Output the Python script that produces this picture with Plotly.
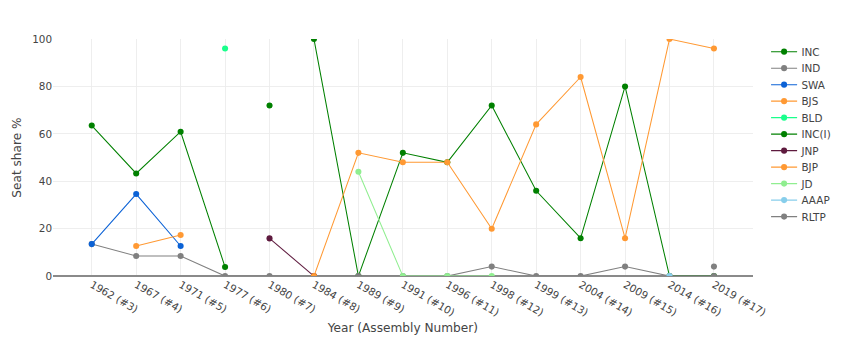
import plotly.graph_objects as go

years = ["1962 (#3)", "1967 (#4)", "1971 (#5)", "1977 (#6)", "1980 (#7)", "1984 (#8)",
         "1989 (#9)", "1991 (#10)", "1996 (#11)", "1998 (#12)", "1999 (#13)",
         "2004 (#14)", "2009 (#15)", "2014 (#16)", "2019 (#17)"]
N = None
inc = [63.5, 43.3, 60.9, 3.8, N, 100, 0, 52, 48, 72, 36, 16, 80, 0, 0]
ind = [13.5, 8.5, 8.5, 0, 0, 0, 0, 0, 0, 4, 0, 0, 4, 0, 0]
swa = [13.5, 34.6, 12.7, N, N, N, N, N, N, N, N, N, N, N, N]
bjs = [N, 12.7, 17.3, N, N, N, N, N, N, N, N, N, N, N, N]
bld = [N, N, N, 96, N, N, N, N, N, N, N, N, N, N, N]
inci = [N, N, N, N, 72, N, N, N, N, N, N, N, N, N, N]
jnp = [N, N, N, N, 15.9, 0, N, N, N, N, N, N, N, N, N]
bjp = [N, N, N, N, N, 0, 52, 48, 48, 20, 64, 84, 16, 100, 96]
jd = [N, N, N, N, N, N, 44, 0, 0, 0, N, N, N, N, N]
aaap = [N, N, N, N, N, N, N, N, N, N, N, N, N, 0, N]
rltp = [N, N, N, N, N, N, N, N, N, N, N, N, N, N, 4]

series = [
    ("INC", inc, "#008000"),
    ("IND", ind, "#808080"),
    ("SWA", swa, "#0b62d6"),
    ("BJS", bjs, "#ff9933"),
    ("BLD", bld, "#1aff8c"),
    ("INC(I)", inci, "#008000"),
    ("JNP", jnp, "#5e1a3e"),
    ("BJP", bjp, "#ff9933"),
    ("JD", jd, "#90ee90"),
    ("AAAP", aaap, "#87ceeb"),
    ("RLTP", rltp, "#808080"),
]

SCALE = 0.8682
W, H = 979, 404

fig = go.Figure()
for name, vals, col in series:
    fig.add_trace(go.Scatter(
        x=years, y=vals, name=name, mode="lines+markers",
        line=dict(color=col, width=1.2),
        marker=dict(color=col, size=7),
        connectgaps=False,
    ))

fig.update_layout(
    template="plotly_white",
    width=W, height=H,
    margin=dict(l=61, r=112, t=45, b=86),
    font=dict(family="Verdana, DejaVu Sans, sans-serif", size=12, color="#444"),
    legend=dict(x=1.02, y=1, xanchor="left", yanchor="top", font=dict(size=12)),
    xaxis=dict(title=dict(text="Year (Assembly Number)", font=dict(size=14), standoff=6),
               tickangle=30, gridcolor="#ebebeb", type="category"),
    yaxis=dict(title=dict(text="Seat share %", font=dict(size=14), standoff=8),
               range=[0, 100], dtick=20,
               gridcolor="#ebebeb", zeroline=True, zerolinecolor="#8a8a8a",
               zerolinewidth=2),
)

post = ("var d=document.getElementById('{plot_id}');"
        "d.style.zoom='%s';document.body.style.margin='0';"
        "document.body.style.overflow='hidden';" % SCALE)
fig.write_html("out.html", post_script=post)
